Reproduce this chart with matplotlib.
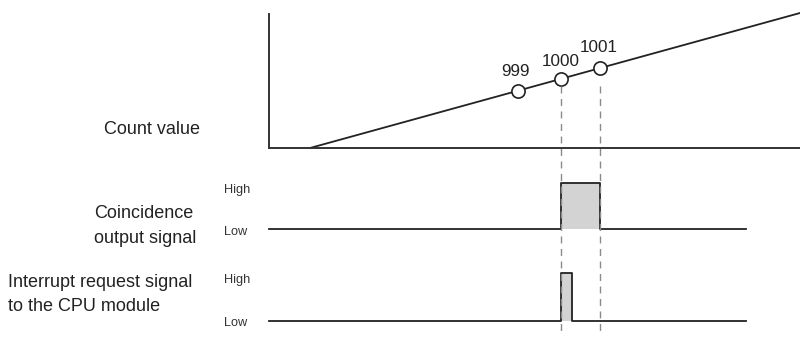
import matplotlib.pyplot as plt
from matplotlib.lines import Line2D
from matplotlib.transforms import blended_transform_factory

plt.rcParams["font.family"] = ["Liberation Sans", "DejaVu Sans"]

# time axis is in arbitrary units (0 = left edge of the timing chart)
ramp_t = [41, 531]
ramp_count = [0, 135]

count_labels = ["999", "1000", "1001"]
count_t = [249, 292, 331]
count_level = [57.5, 69, 80]

coin_t = [0, 292, 292, 331, 331, 477]
coin_level = [0, 0, 1, 1, 0, 0]

int_t = [0, 292, 292, 303, 303, 477]
int_level = [0, 0, 1, 1, 0, 0]

guide_t = [292, 331]

INK = "#222222"
FILL = "#d3d3d3"

fig = plt.figure(figsize=(8, 3.38), dpi=100)
H = 338.0
left, width = 269 / 800, 531 / 800

ax_cnt = fig.add_axes([left, (H - 148) / H, width, 134 / H])
ax_coin = fig.add_axes([left, (H - 229) / H, width, 46 / H])
ax_int = fig.add_axes([left, (H - 321) / H, width, 48 / H])

for ax in (ax_cnt, ax_coin, ax_int):
    ax.set_xlim(0, 531)
    ax.set_facecolor("none")
    ax.set_xticks([])
    ax.set_yticks([])

# count value panel
ax_cnt.set_ylim(0, 134)
for side in ("top", "right"):
    ax_cnt.spines[side].set_visible(False)
for side in ("left", "bottom"):
    ax_cnt.spines[side].set_linewidth(1.4)
    ax_cnt.spines[side].set_color("#333333")
ax_cnt.plot(ramp_t, ramp_count, color=INK, lw=1.3, clip_on=False)
ax_cnt.plot(count_t, count_level, "o", ms=9.5, mfc="white", mec=INK,
            mew=1.2, clip_on=False, zorder=5)
offsets = [(-2, 13.5), (0, 12.5), (-1, 14.5)]
for lab, t, c, off in zip(count_labels, count_t, count_level, offsets):
    ax_cnt.annotate(lab, (t, c), xytext=off, textcoords="offset points",
                    ha="center", va="center", fontsize=12.3, color=INK)
ax_cnt.text(-69, 18, "Count value", ha="right", va="center",
            fontsize=13, color=INK, clip_on=False)

# signal panels
for ax, ts, lv in ((ax_coin, coin_t, coin_level), (ax_int, int_t, int_level)):
    ax.set_ylim(0, 1)
    ax.axis("off")
    ax.fill_between(ts, lv, 0, color=FILL, lw=0)
    ax.plot(ts, lv, color=INK, lw=1.3, clip_on=False)

SMALL = dict(ha="left", va="center", fontsize=9.2, color="#333333")
ax_coin.text(-45, 0.85, "High", **SMALL)
ax_coin.text(-45, -0.065, "Low", **SMALL)
ax_int.text(-45, 0.85, "High", **SMALL)
ax_int.text(-45, -0.04, "Low", **SMALL)

ax_coin.text(-175, 0.065, "Coincidence\noutput signal", ha="left", va="center",
             fontsize=13, color=INK, linespacing=1.55)
ax_int.text(-261, 0.55, "Interrupt request signal\nto the CPU module", ha="left",
            va="center", fontsize=13, color=INK, linespacing=1.5)

# dashed guides from the count points down through both signals
trans = blended_transform_factory(ax_cnt.transData, fig.transFigure)
for t in guide_t:
    fig.add_artist(Line2D([t, t], [1 - 86 / H, 1 - 332 / H], transform=trans,
                          color="#8a8a8a", lw=1.0, ls=(0, (5, 4))))

fig.savefig("out.png", dpi=100)
